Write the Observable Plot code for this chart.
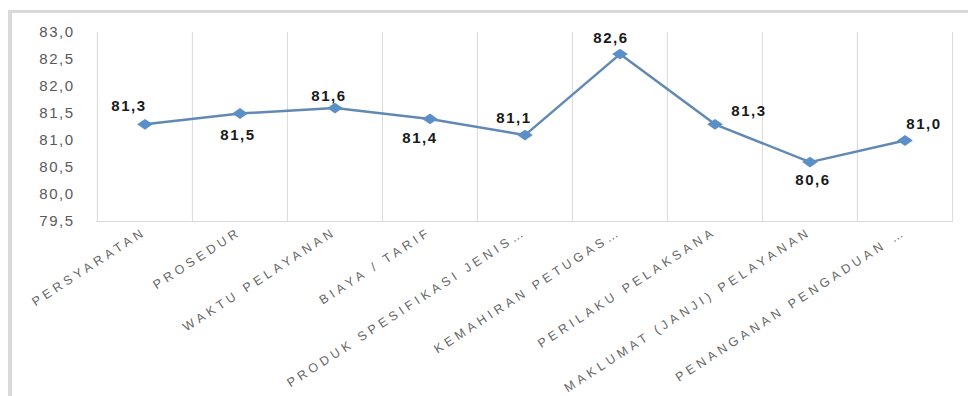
<!DOCTYPE html>
<html>
<head>
<meta charset="utf-8">
<script src="https://cdn.jsdelivr.net/npm/d3@7"></script>
<script src="https://cdn.jsdelivr.net/npm/@observablehq/plot@0.6"></script>
<style>
  html, body { margin: 0; padding: 0; background: #fff; }
  #wrap { position: relative; width: 968px; height: 396px; overflow: hidden; }
  #frame { position: absolute; left: 8px; top: 10px; right: -10px; bottom: -10px;
           border-top: 3px solid #d9d9d9; border-left: 4px solid #d9d9d9; }
  #chart { position: absolute; left: 0; top: 0; }
  #chart svg { overflow: visible; }
  g[aria-label="y-axis tick label"] text { letter-spacing: 1.5px; }
  g[aria-label="x-axis tick label"] { fill: #666; }
  g[aria-label="x-axis tick label"] text { letter-spacing: 3.9px; }
  g.vlabel text { letter-spacing: 1.6px; }
</style>
</head>
<body>
<div id="wrap"><div id="frame"></div><div id="chart"></div></div>
<script>
const categories = [
  "PERSYARATAN",
  "PROSEDUR",
  "WAKTU PELAYANAN",
  "BIAYA / TARIF",
  "PRODUK SPESIFIKASI JENIS…",
  "KEMAHIRAN PETUGAS…",
  "PERILAKU PELAKSANA",
  "MAKLUMAT (JANJI) PELAYANAN",
  "PENANGANAN PENGADUAN …"
];
const values = [81.3, 81.5, 81.6, 81.4, 81.1, 82.6, 81.3, 80.6, 81.0];
const yTicks = [79.5, 80.0, 80.5, 81.0, 81.5, 82.0, 82.5, 83.0];
// label offsets (px) relative to each point
const labelDx = [-16, -2, -6, -10, -11, -9, 34, 3, 19];
const labelDy = [-18, 22, -12, 19, -17, -16, -13, 18, -16];

const fmt = v => v.toFixed(1).replace(".", ",");
const data = categories.map((c, i) => ({category: c, value: values[i], i}));

const W = 968, H = 396, ML = 96, MR = 15, MT = 32, MB = 175;
const bw = (W - ML - MR) / categories.length;

const wideDiamond = {
  draw(ctx, size) {
    const r = Math.sqrt(size / Math.PI);
    ctx.moveTo(-r * 1.3, 0);
    ctx.lineTo(0, -r * 0.9);
    ctx.lineTo(r * 1.3, 0);
    ctx.lineTo(0, r * 0.9);
    ctx.closePath();
  }
};

const labelMarks = data.map((d, i) => Plot.text([d], {
  x: "category", y: "value", text: dd => fmt(dd.value),
  dx: labelDx[i], dy: labelDy[i],
  fontWeight: "bold", fontSize: 15, fill: "#1a1a1a", className: "vlabel"
}));

const chart = Plot.plot({
  width: W, height: H,
  marginLeft: ML, marginRight: MR, marginTop: MT, marginBottom: MB,
  style: {fontFamily: "'Liberation Sans', Arial, sans-serif", color: "#595959", background: "transparent"},
  x: {type: "band", domain: categories, padding: 0, label: null},
  y: {domain: [79.5, 83], label: null},
  marks: [
    Plot.ruleX(categories, {x: d => d, dx: -bw / 2, y1: 79.5, y2: 83, stroke: "#d9d9d9"}),
    Plot.ruleX(categories.slice(-1), {x: d => d, dx: bw / 2, y1: 79.5, y2: 83, stroke: "#d9d9d9"}),
    Plot.ruleY([79.5], {stroke: "#d9d9d9"}),
    Plot.axisY({ticks: yTicks, tickFormat: fmt, tickSize: 0, tickPadding: 22, fontSize: 15, label: null}),
    Plot.axisX({tickRotate: -33, tickSize: 0, tickPadding: 9, fontSize: 12.5, label: null}),
    Plot.line(data, {x: "category", y: "value", stroke: "#6189b4", strokeWidth: 2.5}),
    Plot.dot(data, {x: "category", y: "value", symbol: wideDiamond, r: 6, fill: "#5b8fc7", stroke: "none"}),
    ...labelMarks
  ]
});
document.getElementById("chart").appendChild(chart);
</script>
</body>
</html>
